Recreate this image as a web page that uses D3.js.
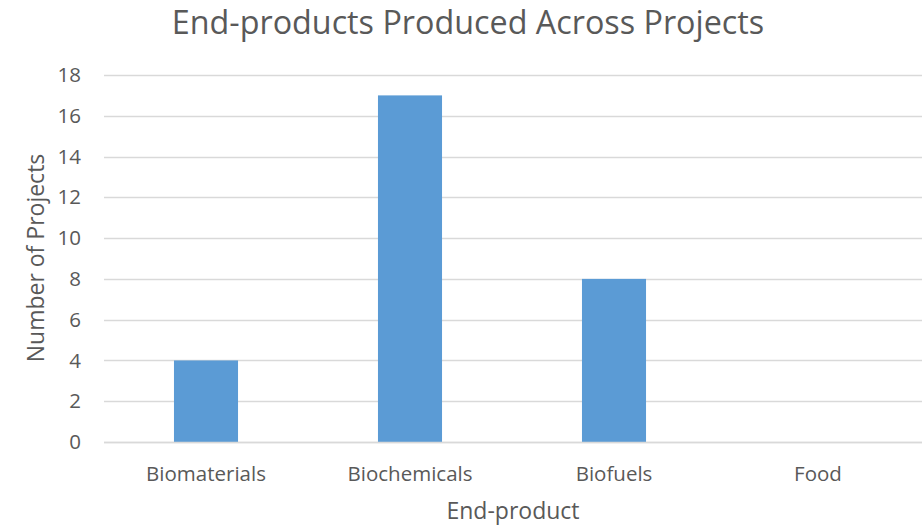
<!DOCTYPE html>
<html>
<head>
<meta charset="utf-8">
<script src="https://cdn.jsdelivr.net/npm/d3@7"></script>
<style>
  html, body { margin: 0; padding: 0; background: #fff; }
  svg text { font-family: "Open Sans", "Liberation Sans", sans-serif; fill: #595959; }
</style>
</head>
<body>
<svg id="chart" width="923" height="526"></svg>
<script>
// Projects counted per end-product category
const categories = ["Biomaterials", "Biochemicals", "Biofuels", "Food"];
const projectCounts = [4, 17, 8, 0];
const yTicks = [0, 2, 4, 6, 8, 10, 12, 14, 16, 18];

const titleText = "End-products Produced Across Projects";
const xTitle = "End-product";
const yTitle = "Number of Projects";

const svg = d3.select("#chart");
const plot = { left: 104, right: 920, top: 75, bottom: 442 };

const x = d3.scaleBand()
  .domain(categories)
  .range([plot.left, plot.right])
  .paddingInner(0.686)
  .paddingOuter(0.343);

const y = d3.scaleLinear()
  .domain([0, 18])
  .range([plot.bottom, plot.top]);

// horizontal gridlines
svg.append("g")
  .selectAll("line")
  .data(yTicks)
  .join("line")
  .attr("x1", plot.left)
  .attr("x2", plot.right + 2)
  .attr("y1", d => Math.round(y(d)) + 0.5)
  .attr("y2", d => Math.round(y(d)) + 0.5)
  .attr("stroke", "#d9d9d9")
  .attr("stroke-width", 1.3);

// y axis labels
const yAxis = d3.axisLeft(y).tickValues(yTicks).tickSize(0).tickPadding(0);
svg.append("g")
  .attr("transform", `translate(${plot.left - 23},0)`)
  .call(yAxis)
  .call(g => g.select(".domain").remove())
  .call(g => g.selectAll("text")
    .attr("font-size", 20.5)
    .attr("font-family", null)
    .style("fill", "#595959"));

// bars
svg.append("g")
  .selectAll("rect")
  .data(categories.map((c, i) => ({ c, v: projectCounts[i] })))
  .join("rect")
  .attr("x", d => x(d.c))
  .attr("width", x.bandwidth())
  .attr("y", d => y(d.v))
  .attr("height", d => y(0) - y(d.v))
  .attr("fill", "#5b9bd5");

// category axis
const xAxis = d3.axisBottom(x).tickSize(0).tickPadding(0);
svg.append("g")
  .attr("transform", `translate(0,${plot.bottom})`)
  .call(xAxis)
  .call(g => g.select(".domain").remove())
  .call(g => g.selectAll("text")
    .attr("dy", null)
    .attr("y", 39)
    .attr("font-size", 20.5)
    .attr("font-family", null)
    .style("fill", "#595959"));

// baseline drawn over bars
svg.append("line")
  .attr("x1", plot.left)
  .attr("x2", plot.right + 2)
  .attr("y1", Math.round(y(0)) + 0.5)
  .attr("y2", Math.round(y(0)) + 0.5)
  .attr("stroke", "#d9d9d9")
  .attr("stroke-width", 1.3);

// chart title
svg.append("text")
  .attr("x", 468)
  .attr("y", 34)
  .attr("text-anchor", "middle")
  .attr("font-size", 32.3)
  .text(titleText);

// axis titles
svg.append("text")
  .attr("x", 513)
  .attr("y", 519)
  .attr("text-anchor", "middle")
  .attr("font-size", 23)
  .text(xTitle);

svg.append("text")
  .attr("transform", "translate(44,258) rotate(-90)")
  .attr("text-anchor", "middle")
  .attr("font-size", 23)
  .text(yTitle);
</script>
</body>
</html>
